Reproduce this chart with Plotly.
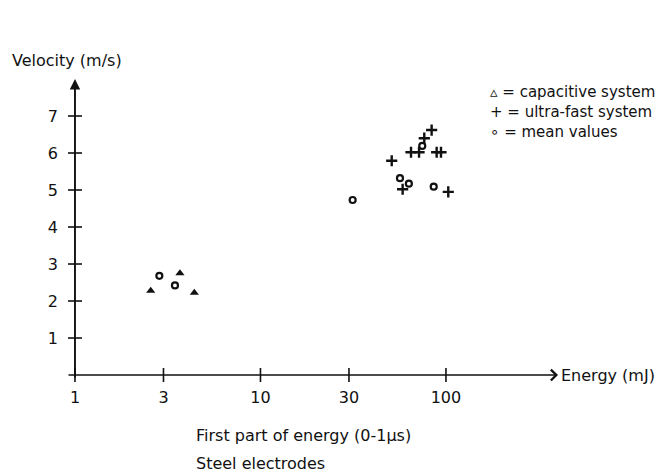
import plotly.graph_objects as go

# ---- data ----
cap_energy = [2.56, 3.68, 4.40]
cap_velocity = [2.28, 2.75, 2.22]

ultra_energy = [83.7, 76.4, 64.8, 71.6, 89.1, 94.0, 51.0, 58.4, 102.9]
ultra_velocity = [6.62, 6.40, 6.02, 6.02, 6.02, 6.02, 5.79, 5.02, 4.95]

mean_energy = [2.85, 3.46, 74.5, 56.5, 63.1, 85.9, 31.4]
mean_velocity = [2.68, 2.42, 6.19, 5.32, 5.17, 5.09, 4.73]

x_ticks = [1, 3, 10, 30, 100]
x_ticklabels = ["1", "3", "10", "30", "100"]
y_ticks = [1, 2, 3, 4, 5, 6, 7]
y_ticklabels = [str(v) for v in y_ticks]

# ---- layout geometry ----
W, H = 655, 473
ML, MR, MT, MB = 67, 97, 79, 88
PW, PH = W - ML - MR, H - MT - MB
XR = [-0.043, 2.604]
YR = [-0.27, 8.0]
FONT = "DejaVu Sans"
INK = "#111111"


def px(x):
    return (x - ML) / PW


def py(y):
    return (H - MB - y) / PH


fig = go.Figure()

# tick marks crossing the axes
fig.add_trace(go.Scatter(x=x_ticks, y=[0] * len(x_ticks), mode="markers",
                         marker=dict(symbol="line-ns", size=10, color=INK, line=dict(width=1.6, color=INK)),
                         hoverinfo="skip", showlegend=False))
fig.add_trace(go.Scatter(x=[1] * len(y_ticks), y=y_ticks, mode="markers",
                         marker=dict(symbol="line-ew", size=10, color=INK, line=dict(width=1.6, color=INK)),
                         hoverinfo="skip", showlegend=False))

fig.add_trace(go.Scatter(x=cap_energy, y=cap_velocity, mode="markers", name="capacitive system",
                         marker=dict(symbol="triangle-up", size=8, color=INK), showlegend=False))
fig.add_trace(go.Scatter(x=ultra_energy, y=ultra_velocity, mode="markers", name="ultra-fast system",
                         marker=dict(symbol="cross-thin", size=8, color=INK, line=dict(width=2.4, color=INK)),
                         showlegend=False))
fig.add_trace(go.Scatter(x=mean_energy, y=mean_velocity, mode="markers", name="mean values",
                         marker=dict(symbol="circle-open", size=6, color=INK, line=dict(width=2.2, color=INK)),
                         showlegend=False))

annotations = []
# x axis arrow (from left end to tip)
annotations.append(dict(xref="x domain", yref="y", x=1.0, y=0, ax=0.0, ay=0,
                        axref="x domain", ayref="y", showarrow=True, arrowhead=4,
                        arrowsize=1.4, arrowwidth=1.5, arrowcolor=INK, text=""))
# y axis arrow
annotations.append(dict(xref="x", yref="y", x=0, y=8.0, ax=0, ay=-0.11,
                        axref="x", ayref="y", showarrow=True, arrowhead=2,
                        arrowsize=1.1, arrowwidth=1.9, arrowcolor=INK, text=""))


def label(text, x, y, size=16, xanchor="left"):
    annotations.append(dict(xref="paper", yref="paper", x=px(x), y=py(y), text=text,
                            showarrow=False, xanchor=xanchor, yanchor="middle",
                            font=dict(family=FONT, size=size, color=INK)))


label("Velocity (m/s)", 10, 60)
label("Energy (mJ)", 559, 375)
label("First part of energy (0-1µs)", 194, 435)
label("Steel electrodes", 194, 463)
label("▵ = capacitive system", 488, 92, size=15)
label("+ = ultra-fast system", 488, 112, size=15)
label("∘ = mean values", 488, 132, size=15)

fig.update_layout(
    width=W, height=H,
    margin=dict(l=ML, r=MR, t=MT, b=MB, pad=0),
    paper_bgcolor="white", plot_bgcolor="white",
    font=dict(family=FONT, size=16, color=INK),
    xaxis=dict(type="log", range=XR, tickvals=x_ticks, ticktext=x_ticklabels,
               showgrid=False, zeroline=False, showline=False, ticks="",
               tickfont=dict(size=16, family=FONT, color=INK), ticklabelstandoff=1),
    yaxis=dict(range=YR, tickvals=y_ticks, ticktext=y_ticklabels,
               showgrid=False, zeroline=False, showline=False, ticks="",
               tickfont=dict(size=16, family=FONT, color=INK), ticklabelstandoff=8),
    annotations=annotations,
    showlegend=False,
)

fig.write_html("out.html")
